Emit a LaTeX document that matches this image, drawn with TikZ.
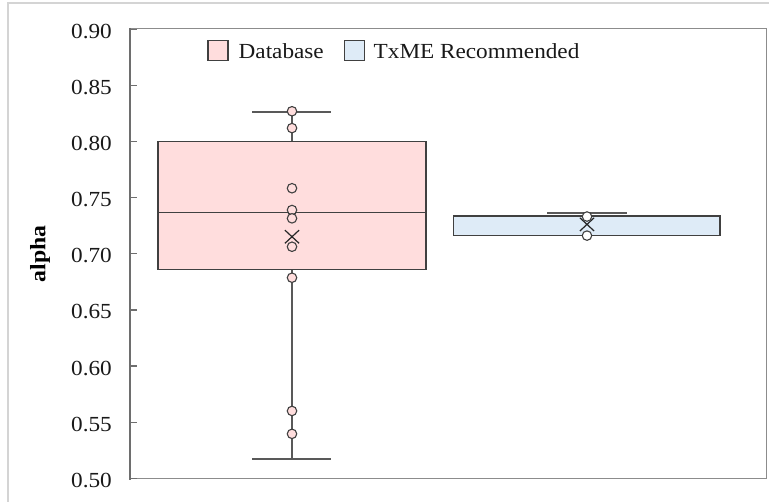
\documentclass[tikz,border=0pt]{standalone}
\usepackage{fontspec}
\setmainfont[FakeStretch=1.08]{Liberation Serif}
\usetikzlibrary{shapes.misc}

\definecolor{dbpink}{RGB}{255,221,221}
\definecolor{txblue}{RGB}{222,235,247}
\definecolor{boxline}{RGB}{64,64,64}
\definecolor{whiskline}{RGB}{89,89,89}
\definecolor{framegray}{RGB}{140,140,140}
\definecolor{axisgray}{RGB}{110,110,110}
\definecolor{outergray}{RGB}{212,212,212}

% value on the alpha axis -> vertical position
\newcommand{\Yv}[1]{478.3-(#1-0.5)*1122.5}

\begin{document}
\begin{tikzpicture}[x=1pt,y=-1pt,
  outerline/.style={draw=outergray,line width=1.4pt},
  frameline/.style={draw=framegray,line width=1pt},
  axisline/.style={draw=axisgray,line width=2pt},
  tickline/.style={draw=axisgray,line width=1.2pt},
  ticklabel/.style={anchor=east,inner sep=0pt,yshift=-2pt,
    font=\fontsize{21.5}{24}\selectfont,text=black!90},
  dbbox/.style={fill=dbpink,draw=boxline,line width=1.3pt},
  txbox/.style={fill=txblue,draw=boxline,line width=1.6pt},
  medline/.style={draw=boxline,line width=1.3pt},
  whisk/.style={draw=whiskline,line width=1.5pt},
  obsdb/.style={circle,draw=boxline,fill=dbpink,line width=1.1pt,
    minimum size=9.5pt,inner sep=0pt},
  obstx/.style={circle,draw=boxline,fill=white,line width=1.1pt,
    minimum size=9.5pt,inner sep=0pt},
  meanmark/.style={cross out,draw=black!85,line width=1.2pt,
    minimum width=13pt,minimum height=12pt,inner sep=0pt},
  legsq/.style={draw=boxline,line width=1.2pt,minimum size=20pt,inner sep=0pt},
  legtext/.style={anchor=base west,inner sep=0pt,
    font=\fontsize{21.5}{24}\selectfont,text=black!90}]

\useasboundingbox (0,0) rectangle (769,502);

% outer frame of the chart
\draw[outerline] (8,502) -- (8,3) -- (769,3);

% plot area
\draw[frameline] (130,29) -- (766,29) -- (766,479) -- (130,479);
\draw[axisline] (130,28) -- (130,480);

% ticks and labels
\foreach \v [count=\i] in {0.50,0.55,0.60,0.65,0.70,0.75,0.80,0.85,0.90}{
  \draw[tickline] (130,{\Yv{\v}}) -- (137,{\Yv{\v}});
  \node[ticklabel] (tick\i) at (112,{\Yv{\v}}) {\v};
}

% axis title
\node[rotate=90,inner sep=0pt,font=\fontsize{22}{24}\bfseries\selectfont]
  (ytitle) at (40,254) {alpha};

% ---- Database ----
\coordinate (dbtop) at (292,{\Yv{0.8}});
\coordinate (dbbot) at (292,{\Yv{0.6857}});
\coordinate (dbhi) at (292,{\Yv{0.8265}});
\coordinate (dblo) at (292,{\Yv{0.517}});
\draw[whisk] (dbtop) -- (dbhi);
\draw[whisk] (dbbot) -- (dblo);
\draw[whisk] (252,{\Yv{0.8265}}) -- (331,{\Yv{0.8265}});
\draw[whisk] (252,{\Yv{0.517}}) -- (331,{\Yv{0.517}});
\draw[dbbox] (158,{\Yv{0.8}}) rectangle (426,{\Yv{0.6857}});
\draw[medline] (158,{\Yv{0.737}}) -- (426,{\Yv{0.737}});
\foreach \v [count=\i] in {0.827,0.812,0.7584,0.739,0.7316,0.7063,0.6787,0.560,0.5396}{
  \node[obsdb] (db\i) at (292,{\Yv{\v}}) {};
}
\node[meanmark] (dbmean) at (292,{\Yv{0.7152}}) {};

% ---- TxME Recommended ----
\coordinate (txtop) at (587,{\Yv{0.7335}});
\coordinate (txhi) at (587,{\Yv{0.7365}});
\draw[whisk,line width=2.4pt] (547,{\Yv{0.7365}}) -- (627,{\Yv{0.7365}});
\draw[txbox] (453.5,{\Yv{0.7335}}) rectangle (720,{\Yv{0.7162}});
\node[meanmark] (txmean) at (587,{\Yv{0.7262}}) {};
\foreach \v [count=\i] in {0.7332,0.7162}{
  \node[obstx] (tx\i) at (587,{\Yv{\v}}) {};
}

% legend
\node[legsq,fill=dbpink] (legdb) at (218,50.5) {};
\node[legtext] (legdbtext) at (238.5,58.3) {Database};
\node[legsq,fill=txblue] (legtx) at (354.2,50.5) {};
\node[legtext] (legtxtext) at (373.5,58.3) {TxME Recommended};
\end{tikzpicture}
\end{document}
